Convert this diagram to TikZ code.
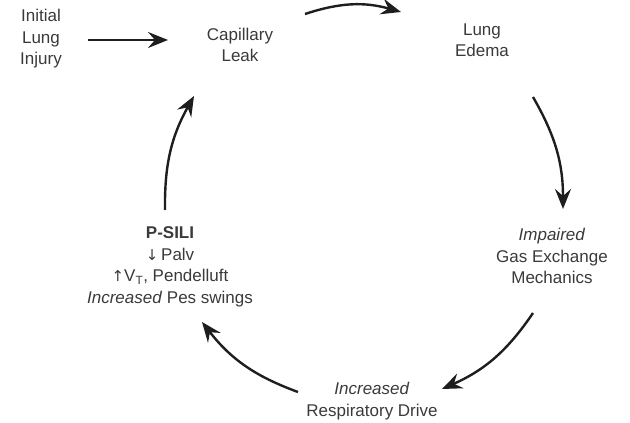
\documentclass[tikz,border=0pt]{standalone}
\usepackage{fontspec}
\setmainfont{Liberation Sans}
\newfontfamily\arrfont{DejaVu Sans}
\usetikzlibrary{arrows.meta}
\definecolor{txt}{HTML}{3A3A3A}
\definecolor{arr}{HTML}{1E1E1E}
\tikzset{
  lbl/.style={align=center, text=txt, font=\fontsize{17}{21.5}\selectfont, inner sep=0pt},
  flow/.style={draw=arr, line width=2.4pt, -{Stealth[length=20pt,width=16pt,inset=7pt]}},
}
\begin{document}
\begin{tikzpicture}[x=1pt,y=1pt]
\useasboundingbox (0,0) rectangle (630,423);
% text nodes
\node[lbl] (init) at (41,384) {Initial\\Lung\\Injury};
\node[lbl] (cap) at (240,378) {Capillary\\Leak};
\node[lbl] (edema) at (482,383) {Lung\\Edema};
\node[lbl] (gas) at (552,167) {\textit{Impaired}\\Gas Exchange\\Mechanics};
\node[lbl] (drive) at (372,22) {\textit{Increased}\\Respiratory Drive};
\node[lbl] (psili) at (170,156) {\textbf{P-SILI}\\{\arrfont\fontsize{15}{15}\selectfont ↓}\,Palv\\{\arrfont\fontsize{15}{15}\selectfont ↑}V\textsubscript{T}, Pendelluft\\\textit{Increased} Pes swings};
% arc end points
\coordinate (s0) at (88,383);  \coordinate (e0) at (168,383);
\coordinate (s1) at (305,409); \coordinate (e1) at (401,411);
\coordinate (s2) at (533,326); \coordinate (e2) at (563,214);
\coordinate (s3) at (533,110); \coordinate (e3) at (442,34);
\coordinate (s4) at (298,31);  \coordinate (e4) at (202,101);
\coordinate (s5) at (165,213); \coordinate (e5) at (194,327);
% connectors
\draw[flow] (s0) -- (e0);
\draw[flow] (s1) to[bend left=17] (e1);
\draw[flow] (s2) to[bend left=15] (e2);
\draw[flow] (s3) to[bend left=16] (e3);
\draw[flow] (s4) to[bend left=16] (e4);
\draw[flow] (s5) to[bend left=15] (e5);
\end{tikzpicture}
\end{document}
